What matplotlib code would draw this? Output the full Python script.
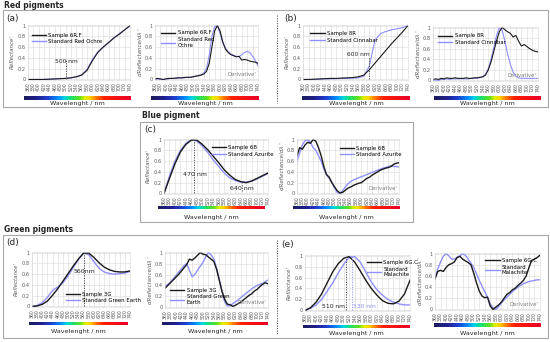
import numpy as np
import matplotlib
matplotlib.use("Agg")
import matplotlib.pyplot as plt
from matplotlib.colors import LinearSegmentedColormap
from matplotlib.patches import Rectangle
from matplotlib.lines import Line2D

# wavelength grids (nm)
wl20 = list(range(360, 741, 20))
wl10 = list(range(360, 741, 10))
tick_wl = list(range(360, 741, 20))

# ---- (a) red ochre ----
a_refl_sample = [0, 0, 0, 0, 0.005, 0.01, 0.015, 0.02, 0.03, 0.05, 0.08, 0.17, 0.35, 0.5, 0.6, 0.68, 0.77, 0.84, 0.92, 1.0]
a_refl_std = [0, 0, 0, 0.002, 0.006, 0.01, 0.015, 0.02, 0.03, 0.05, 0.09, 0.19, 0.37, 0.51, 0.6, 0.69, 0.77, 0.85, 0.92, 0.99]
a_der_sample = [0.01, 0.02, 0.01, 0.0, 0.01, 0.02, 0.02, 0.02, 0.03, 0.03, 0.03, 0.04, 0.04, 0.04, 0.05, 0.06, 0.07, 0.08,
                0.1, 0.15, 0.3, 0.6, 0.9, 1.0, 0.9, 0.7, 0.56, 0.5, 0.46, 0.44, 0.42, 0.43, 0.36, 0.37, 0.36, 0.34, 0.33, 0.32, 0.3]
a_der_std = [0.0, 0.01, 0.0, 0.0, 0.01, 0.01, 0.02, 0.02, 0.02, 0.03, 0.03, 0.03, 0.04, 0.04, 0.05, 0.06, 0.07, 0.09,
             0.12, 0.2, 0.45, 0.8, 0.98, 1.0, 0.85, 0.68, 0.58, 0.52, 0.47, 0.45, 0.43, 0.42, 0.46, 0.5, 0.52, 0.5, 0.43, 0.35, 0.25]

# ---- (b) cinnabar ----
b_refl_sample = [0, 0, 0.005, 0.01, 0.015, 0.02, 0.02, 0.025, 0.03, 0.035, 0.05, 0.08, 0.18, 0.3, 0.42, 0.54, 0.66, 0.77, 0.88, 1.0]
b_refl_std = [0, 0, 0, 0.005, 0.01, 0.01, 0.015, 0.02, 0.02, 0.025, 0.03, 0.06, 0.25, 0.72, 0.85, 0.89, 0.92, 0.94, 0.96, 1.0]
b_der_sample = [0.02, 0.03, 0.02, 0.04, 0.03, 0.05, 0.04, 0.04, 0.05, 0.04, 0.04, 0.04, 0.05, 0.04, 0.04, 0.05, 0.05, 0.06,
                0.07, 0.1, 0.2, 0.35, 0.55, 0.75, 0.92, 1.0, 0.96, 0.92, 0.89, 0.82, 0.85, 0.74, 0.65, 0.68, 0.64, 0.6, 0.57, 0.55, 0.54]
b_der_std = [0.0, 0.01, 0.0, 0.02, 0.02, 0.03, 0.02, 0.03, 0.03, 0.03, 0.03, 0.03, 0.03, 0.03, 0.04, 0.04, 0.05, 0.05,
             0.07, 0.12, 0.22, 0.4, 0.62, 0.85, 1.0, 0.95, 0.75, 0.5, 0.3, 0.16, 0.08, 0.05, 0.04, 0.04, 0.04, 0.04, 0.04, 0.04, 0.04]

# ---- (c) azurite ----
c_refl_sample = [0, 0.28, 0.55, 0.77, 0.91, 0.99, 0.99, 0.91, 0.81, 0.69, 0.57, 0.44, 0.34, 0.26, 0.22, 0.2, 0.23, 0.28, 0.33, 0.38]
c_refl_std = [0, 0.32, 0.6, 0.8, 0.93, 1.0, 0.97, 0.88, 0.76, 0.62, 0.5, 0.38, 0.29, 0.24, 0.21, 0.21, 0.23, 0.27, 0.32, 0.37]
c_der_sample = [0.7, 0.85, 0.82, 0.9, 0.95, 0.93, 1.0, 0.97, 0.85, 0.7, 0.5, 0.35, 0.3, 0.2, 0.12, 0.05, 0.01, 0.02,
                0.06, 0.1, 0.12, 0.15, 0.17, 0.19, 0.2, 0.24, 0.28, 0.3, 0.34, 0.37, 0.4, 0.43, 0.45, 0.47, 0.48, 0.5, 0.54, 0.56, 0.57]
c_der_std = [0.6, 0.75, 0.9, 0.98, 1.0, 0.95, 0.85, 0.8, 0.7, 0.6, 0.45, 0.35, 0.28, 0.2, 0.1, 0.02, 0.0, 0.05,
             0.12, 0.18, 0.22, 0.25, 0.27, 0.29, 0.31, 0.33, 0.35, 0.37, 0.39, 0.41, 0.43, 0.45, 0.47, 0.48, 0.5, 0.51, 0.5, 0.5, 0.49]

# ---- (d) green earth ----
d_refl_sample = [0, 0.01, 0.04, 0.1, 0.21, 0.33, 0.47, 0.61, 0.75, 0.88, 0.99, 0.99, 0.91, 0.81, 0.73, 0.68, 0.65, 0.64, 0.64, 0.66]
d_refl_std = [0, 0.02, 0.07, 0.17, 0.3, 0.36, 0.44, 0.57, 0.72, 0.87, 0.99, 0.96, 0.83, 0.71, 0.64, 0.61, 0.6, 0.61, 0.62, 0.65]
d_der_sample = [0.35, 0.4, 0.45, 0.5, 0.55, 0.6, 0.66, 0.72, 0.78, 0.88, 0.86, 0.9, 0.95, 1.0, 0.97, 0.96, 0.92, 0.88,
                0.84, 0.7, 0.5, 0.3, 0.15, 0.06, 0.05, 0.02, 0.04, 0.07, 0.1, 0.14, 0.18, 0.22, 0.25, 0.3, 0.33, 0.38, 0.42, 0.45, 0.43]
d_der_std = [0.38, 0.42, 0.46, 0.52, 0.58, 0.64, 0.7, 0.76, 0.8, 0.68, 0.56, 0.6, 0.68, 0.75, 0.82, 0.92, 1.0, 0.96,
             0.88, 0.72, 0.52, 0.3, 0.1, 0.03, 0.03, 0.07, 0.1, 0.14, 0.18, 0.22, 0.26, 0.3, 0.34, 0.37, 0.4, 0.42, 0.44, 0.47, 0.5]

# ---- (e) malachite ----
e_refl_sample = [0, 0.05, 0.15, 0.3, 0.5, 0.7, 0.85, 0.95, 0.98, 0.88, 0.72, 0.55, 0.4, 0.28, 0.18, 0.13, 0.12, 0.17, 0.3, 0.55]
e_refl_std = [0, 0.04, 0.1, 0.2, 0.35, 0.5, 0.68, 0.84, 0.97, 0.98, 0.88, 0.7, 0.52, 0.38, 0.28, 0.2, 0.15, 0.12, 0.1, 0.1]
e_der_sample = [0.55, 0.68, 0.7, 0.68, 0.75, 0.8, 0.82, 0.85, 0.93, 0.95, 0.9, 0.87, 0.84, 0.8, 0.65, 0.48, 0.33, 0.24,
                0.21, 0.22, 0.06, 0.0, 0.04, 0.08, 0.13, 0.2, 0.27, 0.3, 0.35, 0.38, 0.43, 0.47, 0.52, 0.6, 0.75, 0.88, 0.9, 0.93, 0.97]
e_der_std = [0.55, 0.72, 0.85, 0.95, 1.0, 0.96, 0.9, 0.9, 0.93, 0.96, 1.0, 0.97, 0.9, 0.83, 0.75, 0.64, 0.52, 0.42,
             0.32, 0.22, 0.1, 0.03, 0.0, 0.05, 0.11, 0.17, 0.22, 0.27, 0.32, 0.36, 0.4, 0.43, 0.46, 0.48, 0.5, 0.51, 0.52, 0.53, 0.53]

BLACK = "#1a1a1a"
LAV = "#9090ff"
GRAY = "#595959"
GRID = "#d9d9d9"
BOX = "#a6a6a6"

spectrum = LinearSegmentedColormap.from_list("spec", [
    (0.0, "#1c1c5c"), (0.12, "#1f1f8f"), (0.22, "#1f3fd0"), (0.32, "#0090ff"),
    (0.38, "#00d8e0"), (0.45, "#20e060"), (0.52, "#60e020"), (0.57, "#e0f000"),
    (0.62, "#ffd000"), (0.67, "#ff8000"), (0.75, "#ff2000"), (1.0, "#e8002a")])

W, H = 550, 342
fig = plt.figure(figsize=(W / 100, H / 100), dpi=100)


def px_axes(x0, y0, x1, y1, **kw):
    return fig.add_axes([x0 / W, 1 - y1 / H, (x1 - x0) / W, (y1 - y0) / H], **kw)


def ftext(x, y, s, **kw):
    fig.text(x / W, 1 - y / H, s, **kw)


def spectral_bar(x0, x1, y, xlabel_y):
    cax = px_axes(x0, y, x1, y + 3.5)
    cax.imshow(np.linspace(0, 1, 256)[None, :], aspect="auto", cmap=spectrum)
    cax.axis("off")
    ftext((x0 + x1) / 2, xlabel_y, "Wavelenght / nm", ha="center", va="center", fontsize=4.6, color="#262626")


def spectrum_axes(rect, x_s, y_s, x_t, y_t, names, deriv, leg_anchor, lw=0.8):
    ax = px_axes(*rect)
    ax.plot(x_t, y_t, color=LAV, lw=lw)
    ax.plot(x_s, y_s, color=BLACK, lw=lw)
    ax.set_xlim(360, 740)
    ax.set_ylim(-0.01, 1.01)
    ax.set_xticks(tick_wl)
    ax.set_xticklabels([str(t) for t in tick_wl], rotation=90, fontsize=3.3, color=GRAY)
    ax.set_yticks([0, 0.2, 0.4, 0.6, 0.8, 1])
    ax.set_yticklabels(["0", "0.2", "0.4", "0.6", "0.8", "1"], fontsize=3.6, color=GRAY)
    ax.tick_params(length=0, pad=1.5)
    ax.grid(True, color=GRID, lw=0.4)
    ax.set_axisbelow(True)
    for s in ax.spines.values():
        s.set_color(GRID)
        s.set_linewidth(0.4)
    if deriv:
        ax.set_ylabel("dReflectance/d\u03bb '", fontsize=4.0, style="italic", color=GRAY, labelpad=2)
        ax.text(0.98, 0.06, "Derivative'", transform=ax.transAxes, ha="right", va="bottom",
                fontsize=3.8, color="#7f7f7f")
    else:
        ax.set_ylabel("Reflectance'", fontsize=4.0, style="italic", color=GRAY, labelpad=2)
    handles = [Line2D([], [], color=BLACK, lw=1.0), Line2D([], [], color=LAV, lw=1.0)]
    ax.legend(handles, names, loc="upper left", bbox_to_anchor=leg_anchor, frameon=False,
              fontsize=3.9, handlelength=2.6, handletextpad=0.4, labelspacing=0.3, borderaxespad=0)
    return ax


# section boxes and headers
fig.add_artist(Rectangle((3 / W, 1 - 107 / H), 545 / W, 97 / H, transform=fig.transFigure,
                         fill=False, ec=BOX, lw=0.8))
fig.add_artist(Rectangle((140 / W, 1 - 222 / H), 273 / W, 100 / H, transform=fig.transFigure,
                         fill=False, ec=BOX, lw=0.8))
fig.add_artist(Rectangle((3 / W, 1 - 338 / H), 545 / W, 103 / H, transform=fig.transFigure,
                         fill=False, ec=BOX, lw=0.8))
fig.add_artist(Line2D([277 / W, 277 / W], [1 - 15 / H, 1 - 103 / H], transform=fig.transFigure,
                      color="#404040", lw=0.6, ls=(0, (1.5, 1.5))))
fig.add_artist(Line2D([277 / W, 277 / W], [1 - 240 / H, 1 - 335 / H], transform=fig.transFigure,
                      color="#404040", lw=0.6, ls=(0, (1.5, 1.5))))
ftext(4, 5, "Red pigments", fontsize=5.5, weight="bold", va="center", color="#262626")
ftext(142, 116, "Blue pigment", fontsize=5.5, weight="bold", va="center", color="#262626")
ftext(4, 230, "Green pigments", fontsize=5.5, weight="bold", va="center", color="#262626")
ftext(6, 18, "(a)", fontsize=6.5, va="center", color="#262626")
ftext(284, 18, "(b)", fontsize=6.5, va="center", color="#262626")
ftext(144, 130, "(c)", fontsize=6.5, va="center", color="#262626")
ftext(6, 243, "(d)", fontsize=6.5, va="center", color="#262626")
ftext(281, 244, "(e)", fontsize=6.5, va="center", color="#262626")

# (a)
ax = spectrum_axes((28, 25, 130, 80), wl20, a_refl_sample, wl20, a_refl_std,
                   ["Sample 6R.F", "Standard Red Ochre"], False, (0.02, 0.9))
ax.plot([500, 500], [0, 0.36], color="#404040", lw=0.6, ls=(0, (1.5, 1.5)))
ax.text(503, 0.33, "500 nm", fontsize=4.3, ha="center", va="center", color="#262626")
spectrum_axes((155, 25, 258, 80), wl10, a_der_sample, wl10, a_der_std,
              ["Sample 6R.F", "Standard Red\nOchre"], True, (0.04, 0.94))
spectral_bar(24, 131, 96, 103)
spectral_bar(151, 259, 96, 103)

# (b)
ax = spectrum_axes((303, 25, 408, 80), wl20, b_refl_sample, wl20, b_refl_std,
                   ["Sample 8R", "Standard Cinnabar"], False, (0.05, 0.93))
ax.plot([600, 600], [0, 0.42], color="#404040", lw=0.6, ls=(0, (1.5, 1.5)))
ax.text(603, 0.46, "600 nm", fontsize=4.3, ha="right", va="center", color="#262626")
spectrum_axes((433, 27, 538, 81), wl10, b_der_sample, wl10, b_der_std,
              ["Sample 8R", "Standard Cinnabar"], True, (0.03, 0.92))
spectral_bar(302, 410, 96, 103)
spectral_bar(434, 541, 96, 103)

# (c)
ax = spectrum_axes((164, 139, 268, 194), wl20, c_refl_sample, wl20, c_refl_std,
                   ["Sample 6B", "Standard Azurite"], False, (0.44, 0.93), lw=1.0)
ax.plot([470, 470], [0, 1], color="#404040", lw=0.6, ls=(0, (1.5, 1.5)))
ax.plot([645, 645], [0.05, 0.2], color="#404040", lw=0.6, ls=(0, (1.5, 1.5)))
ax.text(472, 0.35, "470 nm", fontsize=4.5, ha="center", va="center", color="#262626")
ax.text(645, 0.1, "640 nm", fontsize=4.5, ha="center", va="center", color="#262626")
spectrum_axes((297, 139, 399, 194), wl10, c_der_sample, wl10, c_der_std,
              ["Sample 6B", "Standard Azurite"], True, (0.4, 0.92), lw=1.0)
spectral_bar(158, 265, 206, 217)
spectral_bar(293, 400, 206, 217)

# (d)
ax = spectrum_axes((32, 252, 130, 307), wl20, d_refl_sample, wl20, d_refl_std,
                   ["Sample 3G", "Standard Green Earth"], False, (0.32, 0.32), lw=1.0)
ax.plot([560, 560], [0, 1], color="#404040", lw=0.6, ls=(0, (1.5, 1.5)))
ax.text(562, 0.65, "560nm", fontsize=4.5, ha="center", va="center", color="#262626")
spectrum_axes((165, 252, 268, 308), wl10, d_der_sample, wl10, d_der_std,
              ["Sample 3G", "Standard Green\nEarth"], True, (0.03, 0.4), lw=1.0)
spectral_bar(29, 128, 322, 332)
spectral_bar(162, 268, 322, 332)

# (e)
ax = spectrum_axes((305, 255, 410, 311), wl20, e_refl_sample, wl20, e_refl_std,
                   ["Sample 6G.C", "Standard\nMalachite"], False, (0.57, 0.95), lw=1.0)
ax.plot([510, 510], [0, 1], color="#404040", lw=0.6, ls=(0, (1.5, 1.5)))
ax.plot([530, 530], [0, 1], color=LAV, lw=0.6, ls=(0, (1.5, 1.5)))
ax.text(506, 0.08, "510 nm", fontsize=4.3, ha="right", va="center", color="#262626")
ax.text(535, 0.08, "530 nm", fontsize=4.3, ha="left", va="center", color=LAV)
spectrum_axes((435, 253, 540, 310), wl10, e_der_sample, wl10, e_der_std,
              ["Sample 6G.C", "Standard\nMalachite"], True, (0.46, 0.95), lw=1.0)
spectral_bar(303, 410, 325, 333)
spectral_bar(434, 541, 323, 333)

fig.savefig("out.png", dpi=100)
